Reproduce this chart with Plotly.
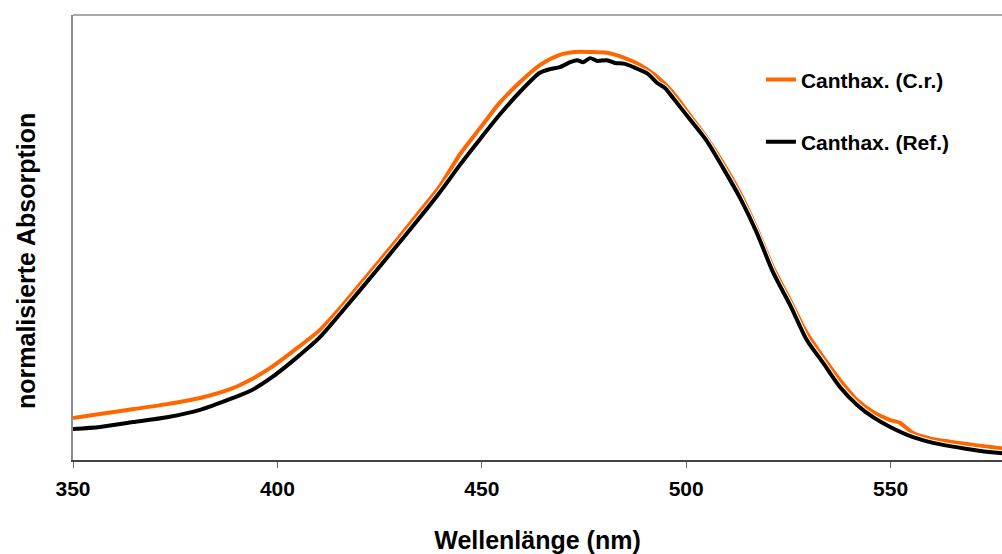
import plotly.graph_objects as go

# Wavelengths (nm) and normalized absorbance
wl_cr = [350.0, 356.6, 364.9, 373.0, 381.1, 389.1, 393.3, 398.2, 404.0, 410.4, 416.5,
         422.7, 428.8, 434.9, 439.8, 444.7, 449.6, 454.5, 459.3, 464.2, 469.1,
         472.8, 476.5, 480.6, 485.0, 488.7, 492.9, 496.8, 500.9, 505.1, 509.0,
         513.2, 517.3, 521.2, 525.4, 529.5, 533.5, 537.6, 541.8, 545.7, 549.9,
         552.3, 555.5, 560.4, 564.5, 568.7, 572.8, 576.8, 580.0]
abs_cr = [0.103, 0.113, 0.125, 0.137, 0.152, 0.176, 0.196, 0.225, 0.268, 0.319, 0.386,
          0.461, 0.534, 0.610, 0.672, 0.750, 0.814, 0.877, 0.926, 0.968, 0.993,
          1.000, 1.000, 0.998, 0.985, 0.968, 0.939, 0.900, 0.845, 0.788, 0.728,
          0.654, 0.566, 0.473, 0.392, 0.311, 0.252, 0.196, 0.147, 0.118, 0.098,
          0.091, 0.066, 0.051, 0.045, 0.039, 0.034, 0.029, 0.027]

wl_ref = [350.0, 356.6, 364.7, 373.0, 381.1, 389.1, 393.3, 398.7, 404.5, 410.4, 416.5,
          422.7, 428.8, 434.9, 439.8, 444.7, 449.6, 454.5, 459.3, 464.2, 466.7,
          469.1, 471.6, 473.3, 474.8, 476.5, 478.2, 480.6, 482.6, 485.0, 488.7,
          490.7, 492.9, 494.8, 496.8, 500.9, 505.1, 509.0, 513.2, 517.3, 521.2,
          525.4, 529.5, 533.5, 537.6, 541.8, 545.7, 549.9, 555.5, 560.4, 564.5,
          568.7, 572.8, 576.8, 580.0]
abs_ref = [0.076, 0.081, 0.093, 0.105, 0.123, 0.152, 0.169, 0.203, 0.249, 0.301, 0.372,
           0.446, 0.520, 0.595, 0.657, 0.724, 0.787, 0.848, 0.902, 0.949, 0.958,
           0.963, 0.975, 0.980, 0.975, 0.985, 0.978, 0.980, 0.973, 0.971, 0.956,
           0.946, 0.924, 0.912, 0.887, 0.835, 0.781, 0.716, 0.642, 0.556, 0.461,
           0.380, 0.294, 0.238, 0.179, 0.135, 0.105, 0.081, 0.056, 0.042, 0.034,
           0.027, 0.021, 0.017, 0.015]

x_ticks = [350, 400, 450, 500, 550]
x_range = [350, 577.25]
y_range = [0, 1.0907]

series_names = ["Canthax. (C.r.)", "Canthax. (Ref.)"]
ORANGE = "#FF6600"
BLACK = "#000000"
FONT = "Liberation Sans, Arial, sans-serif"

fig = go.Figure()
fig.add_trace(go.Scatter(x=wl_cr, y=abs_cr, mode="lines", name=series_names[0],
                         line=dict(color=ORANGE, width=4, shape="spline", smoothing=0.7),
                         legend="legend"))
fig.add_trace(go.Scatter(x=wl_ref, y=abs_ref, mode="lines", showlegend=False,
                         hoverinfo="skip",
                         line=dict(color="white", width=6, shape="spline", smoothing=0.7)))
fig.add_trace(go.Scatter(x=wl_ref, y=abs_ref, mode="lines", name=series_names[1],
                         line=dict(color=BLACK, width=4, shape="spline", smoothing=0.7),
                         legend="legend2"))

fig.update_layout(
    width=1002, height=554,
    margin=dict(l=73, r=0, t=15, b=94, autoexpand=False),
    paper_bgcolor="white", plot_bgcolor="white",
    font=dict(family=FONT, color="black"),
    legend=dict(x=0.7405, y=0.854, xanchor="left", yanchor="middle",
                bgcolor="rgba(0,0,0,0)", font=dict(size=21, family=FONT, weight="bold")),
    legend2=dict(x=0.7405, y=0.7146, xanchor="left", yanchor="middle",
                 bgcolor="rgba(0,0,0,0)", font=dict(size=21, family=FONT, weight="bold")),
    shapes=[dict(type="line", xref="paper", yref="paper", x0=0, x1=1, y0=1, y1=1,
                 line=dict(color="#8c8c8c", width=1.5))],
    annotations=[dict(text="<b>normalisierte Absorption</b>", xref="paper", yref="paper",
                      x=-73/929 + 26/929, y=(460-261)/445, textangle=-90,
                      showarrow=False, xanchor="center", yanchor="middle",
                      font=dict(size=25, family=FONT, color="black"))],
)
fig.update_xaxes(range=x_range, tickvals=x_ticks, ticktext=[str(v) for v in x_ticks],
                 showgrid=False, zeroline=False, showline=True, linecolor="#444444",
                 linewidth=1.5, ticks="outside", ticklen=6, tickcolor="#666666",
                 automargin=False,
                 tickfont=dict(size=21, family=FONT, weight="bold"), ticklabelstandoff=3,
                 title=dict(text="<b>Wellenlänge (nm)</b>", font=dict(size=25, family=FONT),
                            standoff=34))
fig.update_yaxes(range=y_range, showticklabels=False, ticks="", showgrid=False,
                 zeroline=False, showline=True, linecolor="#8c8c8c", linewidth=1.5,
                 automargin=False)

fig.write_html("out.html")
